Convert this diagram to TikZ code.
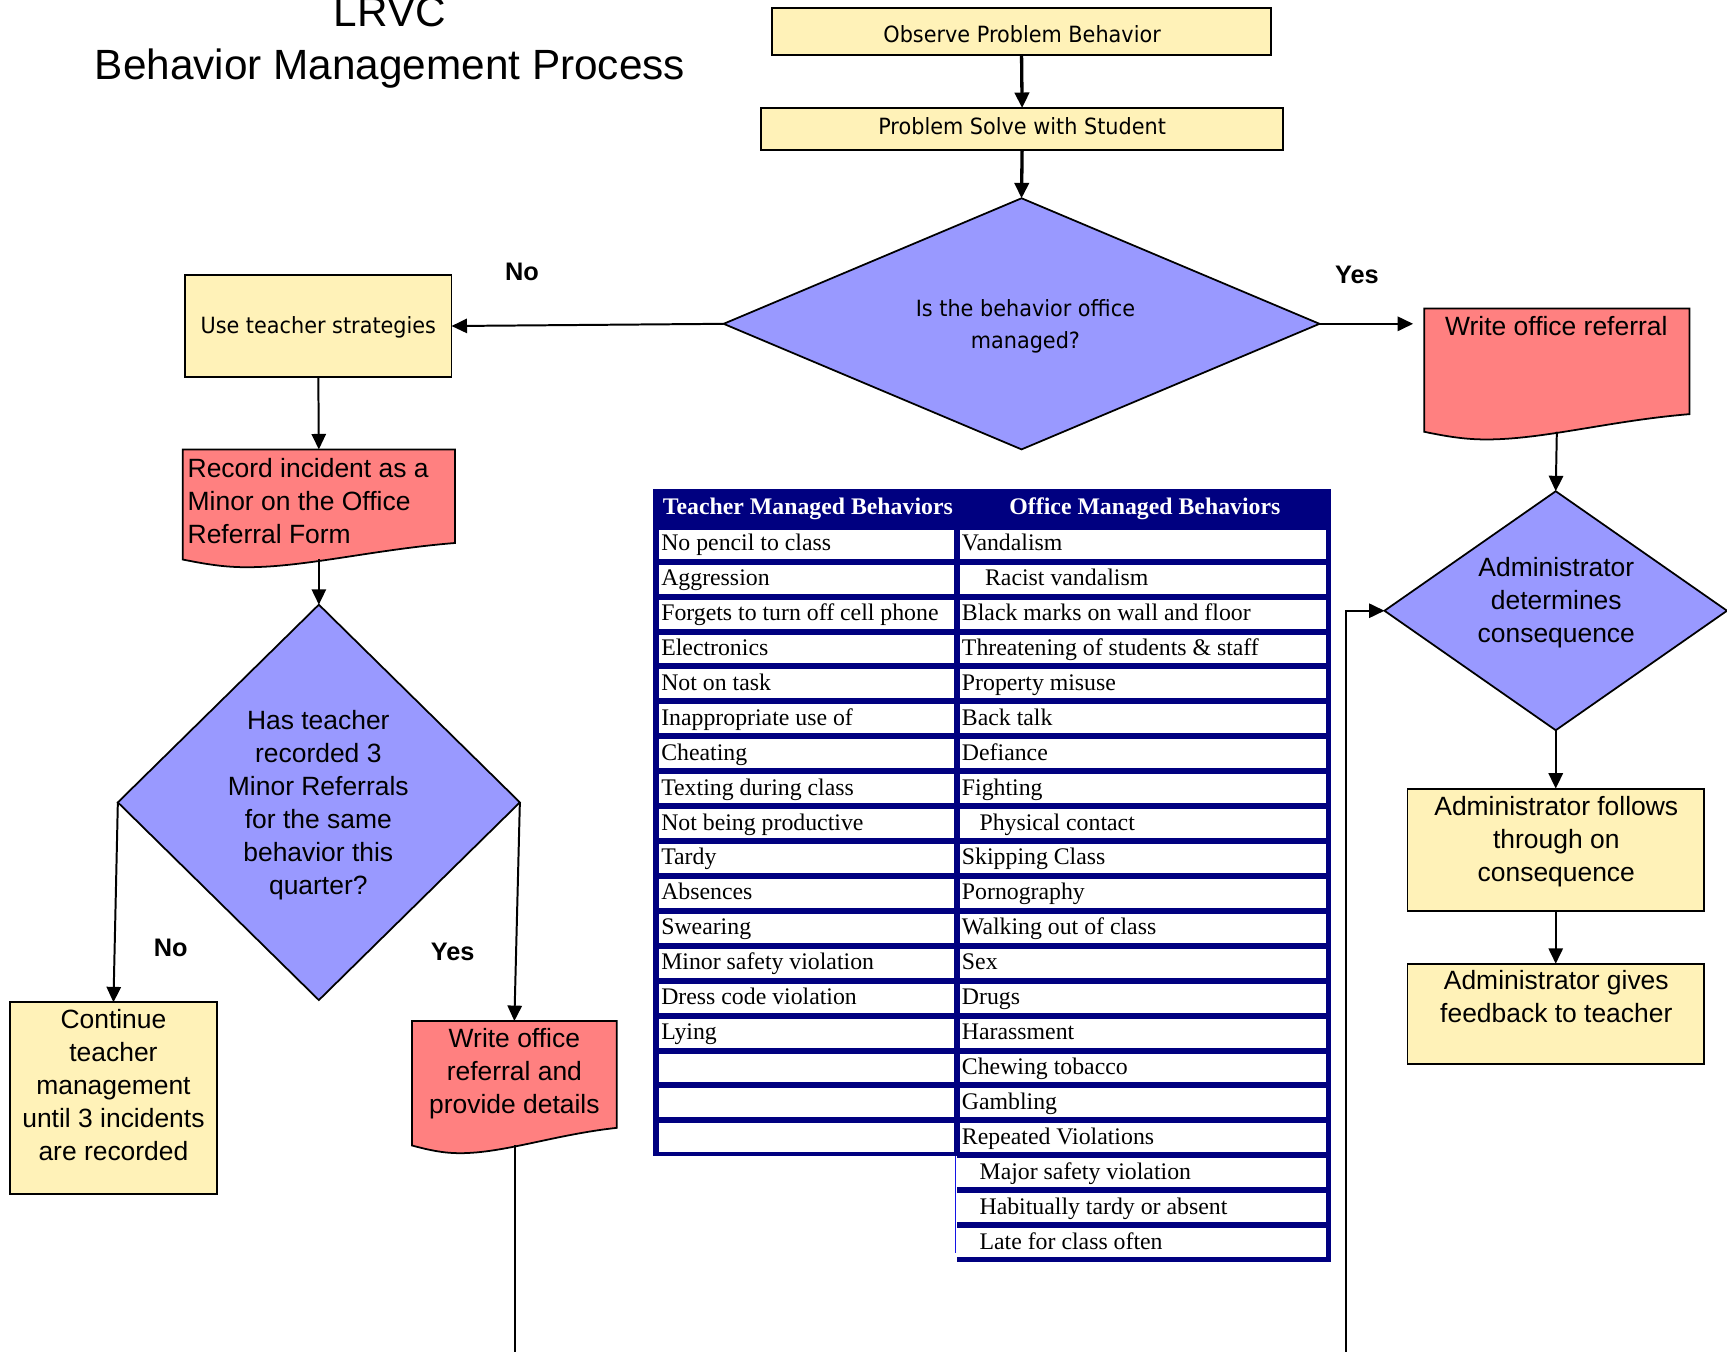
\documentclass[tikz,border=0pt]{standalone}
\usepackage{fontspec}
\setmainfont{Liberation Sans}
\newfontfamily\tah[FakeStretch=0.93]{DejaVu Sans}
\newfontfamily\tms{Liberation Serif}
\usetikzlibrary{shapes.geometric,fit,arrows.meta}
\definecolor{ylw}{RGB}{255,242,184}
\definecolor{slm}{RGB}{255,128,128}
\definecolor{prp}{RGB}{153,153,255}
\definecolor{nvy}{RGB}{0,0,128}
\definecolor{blu}{RGB}{20,20,230}
\begin{document}
\begin{tikzpicture}[x=0.5pt,y=-0.5pt,
  ybox/.style={draw,fill=ylw,line width=0.8pt,inner sep=0,outer sep=0},
  docshape/.style={draw,fill=slm,line width=0.8pt},
  invis/.style={inner sep=0,outer sep=0},
  dmd/.style={diamond,draw,fill=prp,line width=0.8pt,inner sep=0,outer sep=0},
  arr/.style={-{Triangle[length=7pt,width=6.5pt]},line width=0.9pt},
  arrthick/.style={-{Triangle[length=7pt,width=6.5pt]},line width=1.5pt},
  conn/.style={line width=0.8pt},
  tahtxt/.style={font=\tah\fontsize{10.15}{14.5}\selectfont,align=center,inner sep=0},
  lbtxt/.style={font=\fontsize{12}{15}\selectfont,align=center,inner sep=0},
  yn/.style={font=\bfseries\fontsize{11.5}{13}\selectfont,inner sep=0},
  cell/.style={font=\tms\fontsize{10.8}{12}\selectfont,anchor=base west,inner sep=0},
  hdr/.style={font=\tms\bfseries\fontsize{10.8}{12}\selectfont,text=white,inner sep=0},
  ttl/.style={font=\fontsize{19.2}{24}\selectfont,anchor=base,inner sep=0}
]
\fill[white] (0,0) rectangle (1568,1227);
\useasboundingbox (0,0) rectangle (1568,1227);

% title
\node[ttl] (t1) at (354,24) {LRVC};
\node[ttl] (t2) at (354,72) {Behavior Management Process};

% top boxes
\node[ybox, fit={(701,7) (1154,50)}] (obs) {};
\node[tahtxt] (obsT) at (928,31) {Observe Problem Behavior};
\node[ybox, fit={(691,98) (1165,136)}] (ps) {};
\node[tahtxt] (psT) at (928,114.5) {Problem Solve with Student};

% decision 1
\node[dmd, minimum width=270.5pt, minimum height=114pt] (d1) at (927.5,294) {};
\node[tahtxt] (d1T) at (931,296) {Is the behavior office\\managed?};

% use teacher strategies
\node[ybox, fit={(168,250) (410,342)}] (ut) {};
\node[tahtxt] (utT) at (289,297.5) {Use teacher strategies};

% record incident document
\draw[docshape] (166,408) -- (413,408) -- (413,493) .. controls (338.9,499) and (277.2,515) .. (224,515) .. controls (203,515) and (185.8,512) .. (166,508) -- cycle;
\node[invis, fit={(166,408) (413,493)}] (rec) {};
\coordinate (rec-b) at (289.5,507.5);
\node[lbtxt, align=left, anchor=west] (recT) at (170,454.5) {Record incident as a\\Minor on the Office\\Referral Form};

% decision 2
\node[dmd, minimum width=182.5pt, minimum height=179.5pt] (d2) at (289.5,728.5) {};
\node[lbtxt] (d2T) at (289,731) {Has teacher\\recorded 3\\Minor Referrals\\for the same\\behavior this\\quarter?};

% continue
\node[ybox, fit={(9,910) (197,1084)}] (cont) {};
\node[lbtxt] (contT) at (103,985.5) {Continue\\teacher\\management\\until 3 incidents\\are recorded};

% write office referral and provide details
\draw[docshape] (374,927) -- (560,927) -- (560,1024) .. controls (504.2,1030) and (457.7,1047) .. (417.7,1047) .. controls (401.9,1047) and (388.9,1044) .. (374,1040) -- cycle;
\node[invis, fit={(374,927) (560,1024)}] (wo2) {};
\coordinate (wo2-b) at (467.5,1040);
\node[lbtxt] (wo2T) at (467,975) {Write office\\referral and\\provide details};

% write office referral (right)
\draw[docshape] (1293,280) -- (1534,280) -- (1534,376) .. controls (1461.7,382) and (1401.5,399) .. (1349.6,399) .. controls (1329.2,399) and (1312.3,396) .. (1293,392) -- cycle;
\node[invis, fit={(1293,280) (1534,376)}] (wor) {};
\coordinate (wor-b) at (1413.5,392);
\node[lbtxt] (worT) at (1413,296) {Write office referral};

% admin diamond
\node[dmd, minimum width=155.5pt, minimum height=108.5pt] (ad) at (1412.5,554.5) {};
\node[lbtxt] (adT) at (1413,547) {Administrator\\determines\\consequence};

\node[ybox, fit={(1278,716) (1547,827)}] (af) {};
\node[lbtxt] (afT) at (1413,764) {Administrator follows\\through on\\consequence};
\node[ybox, fit={(1278,875) (1547,966)}] (ag) {};
\node[lbtxt] (agT) at (1413,905) {Administrator gives\\feedback to teacher};

% yes / no labels
\node[yn] (no1) at (474,247) {No};
\node[yn] (yes1) at (1232,250) {Yes};
\node[yn] (no2) at (155,861) {No};
\node[yn] (yes2) at (411,864) {Yes};

% connectors
\draw[arrthick] (obs.south) -- (ps.north);
\draw[arrthick] (ps.south) -- (d1.north);
\draw[arr] (d1.west) -- (ut.east);
\draw[arr, shorten >=5pt] (d1.east) -- (d1.east -| wor.west);
\draw[arr] (ut.south) -- (rec.north);
\draw[arr] (rec-b) -- (d2.north);
\draw[arr] (d2.west) -- (cont.north);
\draw[arr] (d2.east) -- (wo2.north);
\draw[arr] (wor-b) -- (ad.north);
\draw[arr] (ad.south) -- (af.north);
\draw[arr] (af.south) -- (ag.north);
\coordinate (bl) at (467.5,1240);
\coordinate (br) at (1222,1240);
\draw[conn] (wo2-b) -- (bl);
\draw[arr] (br) |- (ad.west);

% table
\fill[nvy] (593,444) rectangle (1208.6,1050);
\fill[nvy] (869,1050) rectangle (1208.6,1145.5);
\foreach \i in {0,...,17}{
  \fill[white] (598,{481+\i*31.7}) rectangle (866,{481+\i*31.7+26.3});
  \fill[white] (871.6,{481+\i*31.7}) rectangle (1204,{481+\i*31.7+26.3});
}
\foreach \i in {18,19,20}{
  \fill[white] (869,{481+\i*31.7}) rectangle (1204,{481+\i*31.7+26.3});
}
\draw[blu, line width=0.6pt] (867.3,1050) -- (867.3,1138);
\node[hdr] (h1) at (733.5,462) {Teacher Managed Behaviors};
\node[hdr] (h2) at (1039.5,462) {Office Managed Behaviors};
\foreach \t [count=\i] in {No pencil to class, Aggression, Forgets to turn off cell phone, Electronics, Not on task, Inappropriate use of, Cheating, Texting during class, Not being productive, Tardy, Absences, Swearing, Minor safety violation, Dress code violation, Lying}{
  \node[cell] (L\i) at (600,{481+(\i-1)*31.7+19}) {\t};
}
\foreach \xx/\t [count=\i] in {873/Vandalism, 894/Racist vandalism, 873/Black marks on wall and floor, 873/Threatening of students \& staff, 873/Property misuse, 873/Back talk, 873/Defiance, 873/Fighting, 889/Physical contact, 873/Skipping Class, 873/Pornography, 873/Walking out of class, 873/Sex, 873/Drugs, 873/Harassment, 873/Chewing tobacco, 873/Gambling, 873/Repeated Violations, 889/Major safety violation, 889/Habitually tardy or absent, 889/Late for class often}{
  \node[cell] (R\i) at (\xx,{481+(\i-1)*31.7+19}) {\t};
}
\end{tikzpicture}
\end{document}
